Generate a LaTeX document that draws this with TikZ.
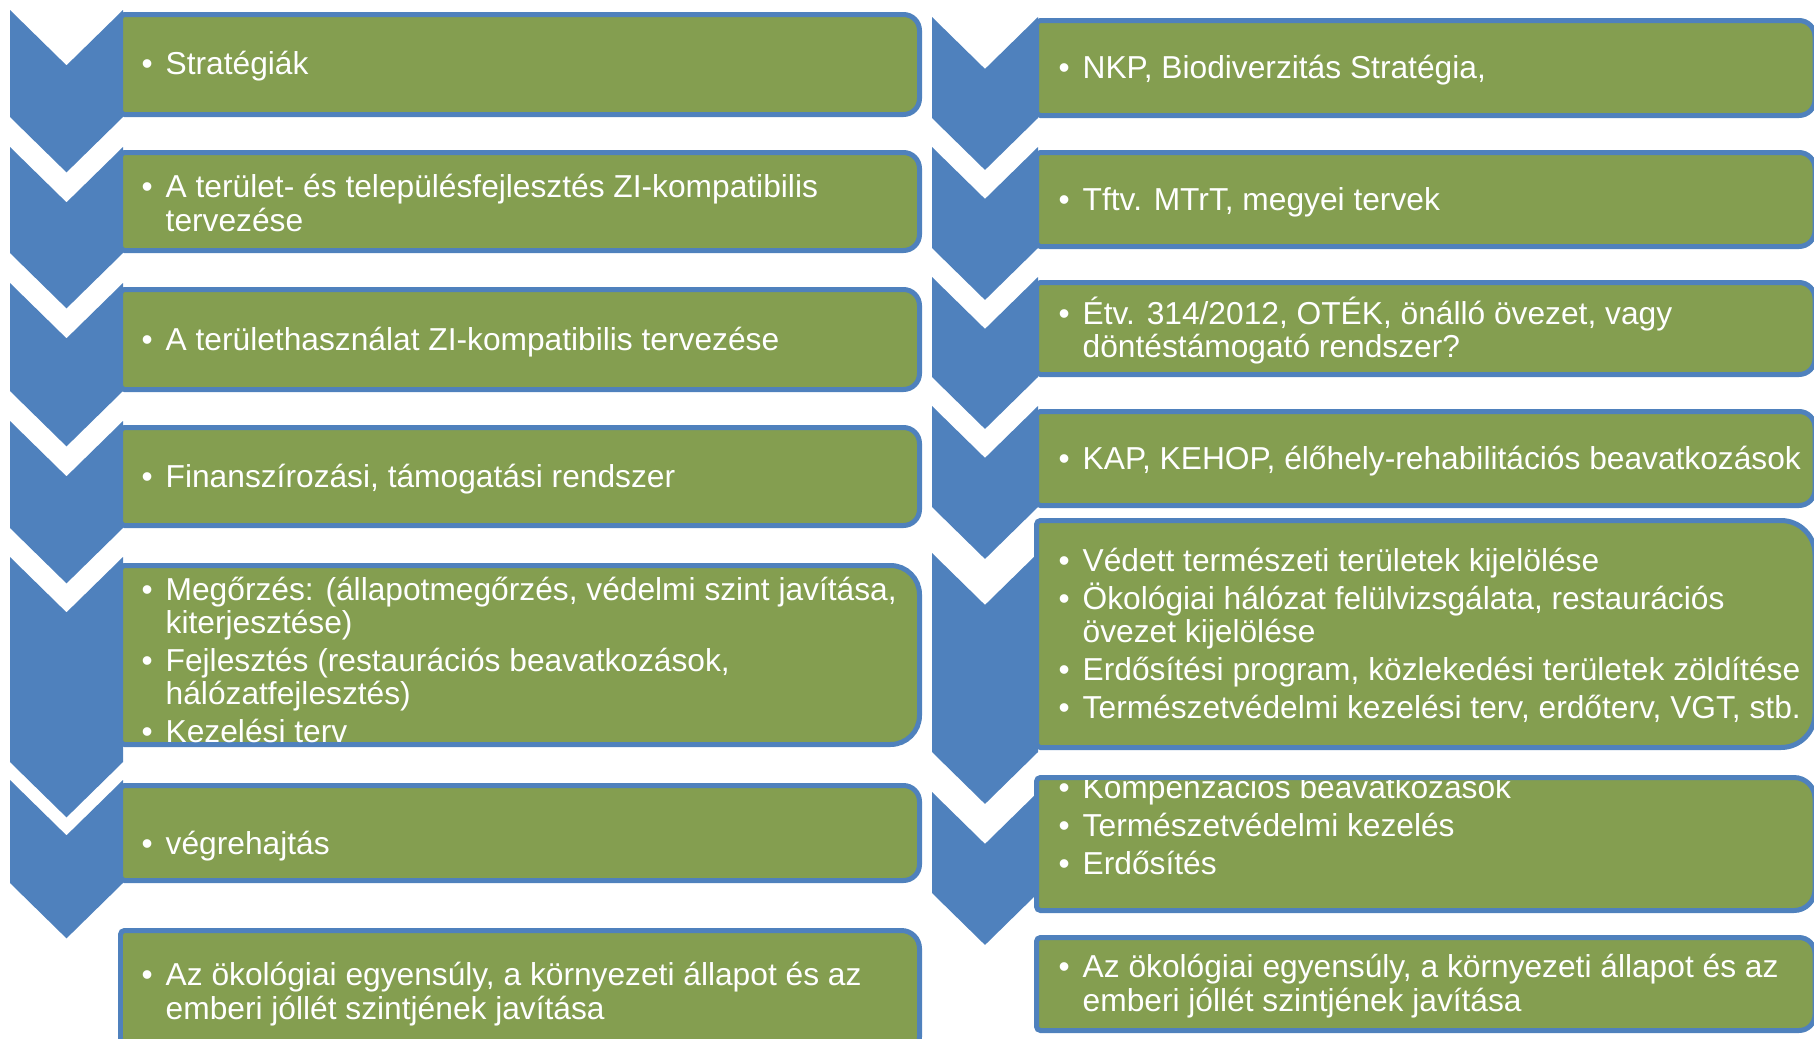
\documentclass[tikz,border=0pt]{standalone}
\usepackage{fontspec}
\setmainfont{Liberation Sans}
\usepackage{xcolor}
\definecolor{zkBlue} {RGB}{ 79, 129, 189}
\definecolor{zkOlive}{RGB}{132, 158,  80}
\usepackage{tikz}

\newcommand{\bul}{\makebox[0.24cm][l]{\textbullet}}
\newcommand{\ind}{\hspace*{0.24cm}}
% chevron: x1, x2, top, bottom (px, y grows downwards)
\newcommand{\chevshape}[4]{%
  \fill[zkBlue] (#1,#3) -- ({(#1+#2)/2},{#3+0.49*(#2-#1)}) -- (#2,#3)
    -- (#2,#4) -- ({(#1+#2)/2},{#4+0.49*(#2-#1)}) -- (#1,#4) -- cycle;}
% card: x1, top, x2, bottom, radius of the right corners
\newcommand{\cardshape}[5]{%
  \draw[cardbox] (#1,{(#2+#4)/2}) [rounded corners=0.04cm] -- (#1,#2)
    [rounded corners=#5] -- (#3,#2) -- (#3,#4)
    [rounded corners=0.04cm] -- (#1,#4) -- cycle;}

\begin{document}
\begin{tikzpicture}[
  x=0.01cm, y=-0.01cm,
  cardbox/.style={draw=zkBlue, fill=zkOlive, line width=1.42pt},
  itemtxt/.style={anchor=west, inner sep=0pt, align=left, text=white,
                  font=\fontsize{9.02pt}{9.47pt}\selectfont},
]
  \useasboundingbox (0,0) rectangle (1814,1039);
  \clip (0,0) rectangle (1814,1039);

  % left column
  \cardshape{120.5}{14.5}{919.5}{114.5}{0.16cm}
  \cardshape{120.5}{152.5}{919.5}{250.5}{0.16cm}
  \cardshape{120.5}{289.5}{919.5}{389.5}{0.16cm}
  \cardshape{120.5}{427.5}{919.5}{525.5}{0.16cm}
  \cardshape{120.5}{565.5}{919.5}{744.5}{0.29cm}
  \cardshape{120.5}{785.5}{919.5}{880.5}{0.16cm}
  \cardshape{120.5}{930.5}{919.5}{1055}{0.18cm}

  \chevshape{10}{123}{10}{117}
  \chevshape{10}{123}{147}{253}
  \chevshape{10}{123}{283}{391}
  \chevshape{10}{123}{421}{528}
  \chevshape{10}{123}{557}{762}
  \chevshape{10}{123}{780}{883}

  % right column
  \cardshape{1036.5}{20.5}{1815}{115.5}{0.16cm}
  \cardshape{1036.5}{152.5}{1815}{246.5}{0.16cm}
  \cardshape{1036.5}{282.5}{1815}{374.5}{0.16cm}
  \cardshape{1036.5}{411.5}{1815}{505.5}{0.16cm}
  \cardshape{1036.5}{520.5}{1815}{747.5}{0.34cm}
  \cardshape{1036.5}{777.5}{1815}{910.5}{0.21cm}
  \cardshape{1036.5}{937.5}{1815}{1030.5}{0.16cm}

  \chevshape{932}{1038}{17}{118}
  \chevshape{932}{1038}{147}{248}
  \chevshape{932}{1038}{277}{377}
  \chevshape{932}{1038}{406}{507}
  \chevshape{932}{1038}{553}{752}
  \chevshape{932}{1038}{792}{893}

  % texts
  \node[itemtxt] (l1) at (141,66) {\bul Stratégiák};
  \node[itemtxt] (l2) at (141,203) {\bul A terület- és településfejlesztés ZI-kompatibilis\\\ind tervezése};
  \node[itemtxt] (l3) at (141,342.5) {\bul A területhasználat ZI-kompatibilis tervezése};
  \node[itemtxt] (l4) at (141,479) {\bul Finanszírozási, támogatási rendszer};
  \node[itemtxt] (l5) at (141,660) {\bul Megőrzés: (állapotmegőrzés, védelmi szint javítása,\\\ind kiterjesztése)\\[1.3pt]
    \bul Fejlesztés (restaurációs beavatkozások,\\\ind hálózatfejlesztés)\\[1.3pt]
    \bul Kezelési terv};
  \node[itemtxt] (l6) at (141,846.5) {\bul végrehajtás};
  \node[itemtxt] (l7) at (141,994) {\bul Az ökológiai egyensúly, a környezeti állapot és az\\\ind emberi jóllét szintjének javítása};

  \node[itemtxt] (r1) at (1058,70.5) {\bul NKP, Biodiverzitás Stratégia,};
  \node[itemtxt] (r2) at (1058,202.5) {\bul Tftv. MTrT, megyei tervek};
  \node[itemtxt] (r3) at (1058,330.5) {\bul Étv. 314/2012, OTÉK, önálló övezet, vagy\\\ind döntéstámogató rendszer?};
  \node[itemtxt] (r4) at (1058,461.5) {\bul KAP, KEHOP, élőhely-rehabilitációs beavatkozások};
  \node[itemtxt] (r5) at (1058,635) {\bul Védett természeti területek kijelölése\\[1.3pt]
    \bul Ökológiai hálózat felülvizsgálata, restaurációs\\\ind övezet kijelölése\\[1.3pt]
    \bul Erdősítési program, közlekedési területek zöldítése\\[1.3pt]
    \bul Természetvédelmi kezelési terv, erdőterv, VGT, stb.};
  \node[itemtxt] (r6) at (1058,825) {\bul Kompenzációs beavatkozások\\[1.3pt]
    \bul Természetvédelmi kezelés\\[1.3pt]
    \bul Erdősítés};
  \node[itemtxt] (r7) at (1058,986) {\bul Az ökológiai egyensúly, a környezeti állapot és az\\\ind emberi jóllét szintjének javítása};

  % top edge of the card runs over its first line
  \draw[zkBlue, line width=1.42pt] (1040,777.5) -- (1780,777.5);
\end{tikzpicture}
\end{document}
